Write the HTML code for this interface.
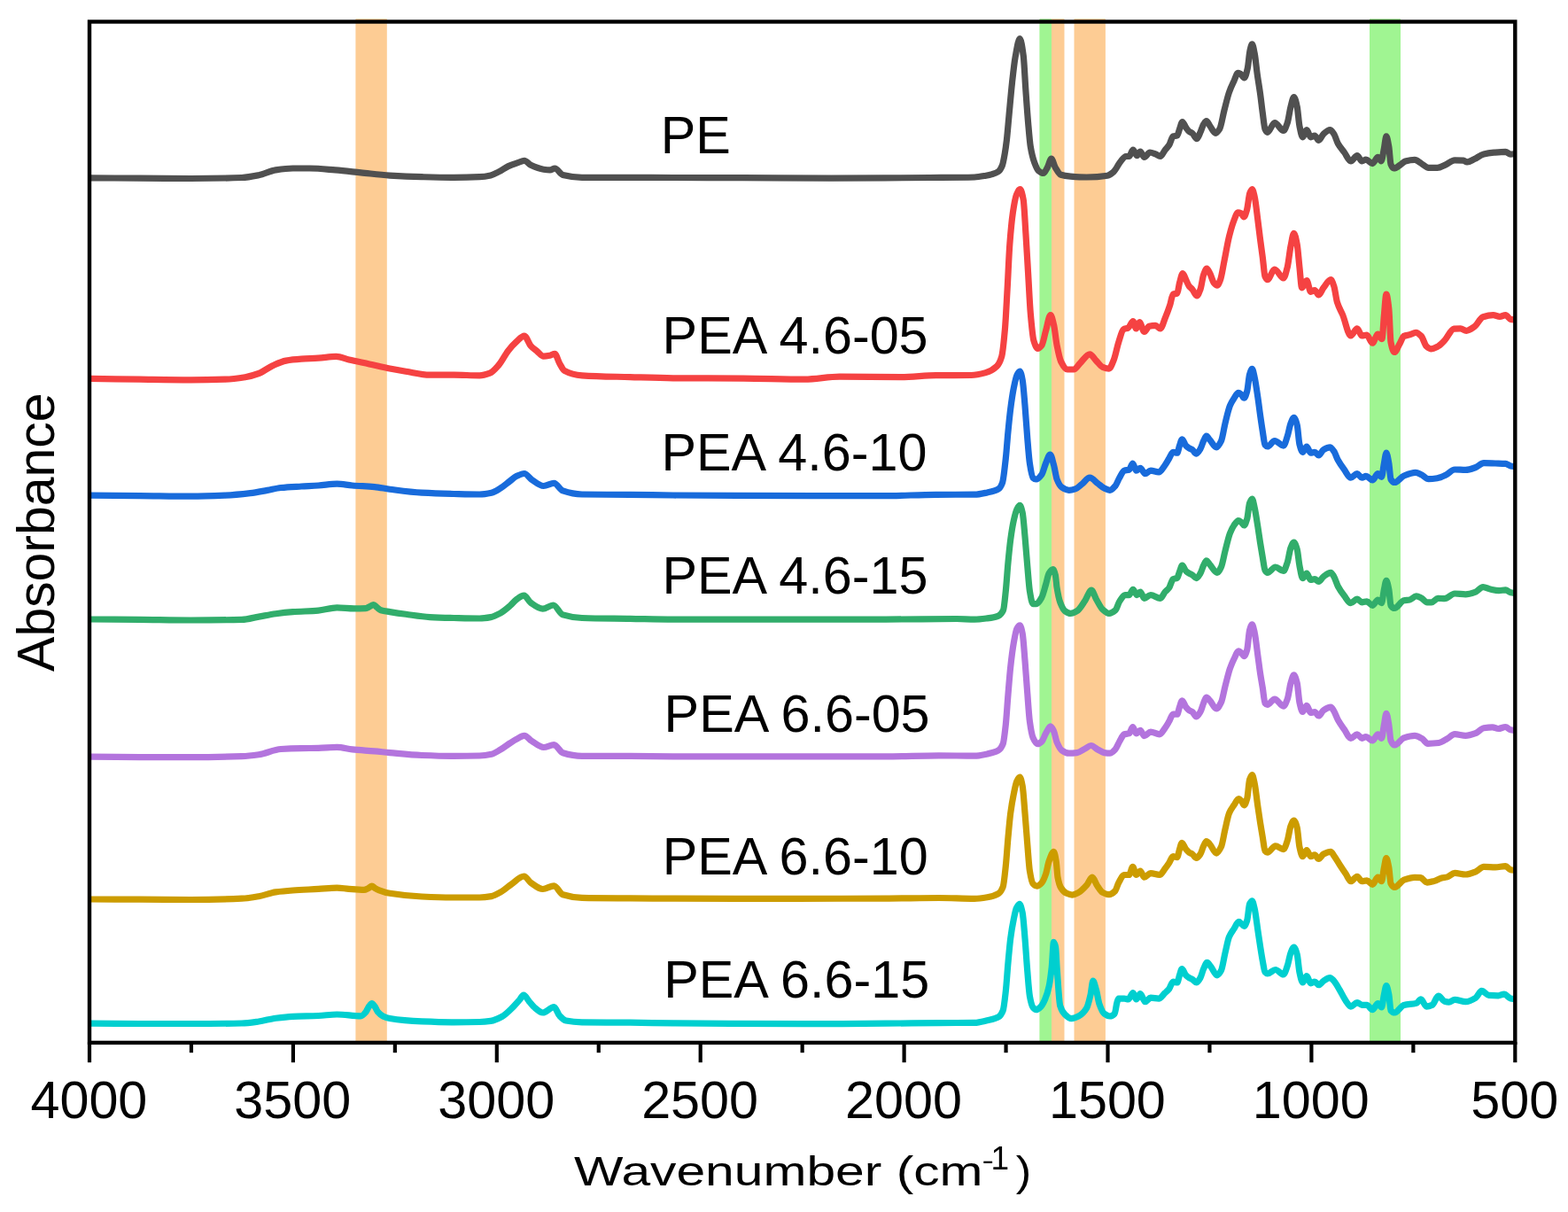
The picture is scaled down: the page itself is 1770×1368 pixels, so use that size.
<!DOCTYPE html>
<html><head><meta charset="utf-8"><style>
html,body{margin:0;padding:0;background:#fff;width:1770px;height:1368px;overflow:hidden}
svg{display:block}
.t{font-family:"Liberation Sans",Arial,sans-serif;font-size:59.3px;fill:#000}
.xl{font-family:"Liberation Sans",Arial,sans-serif;font-size:46.8px;fill:#000}
</style></head><body>
<svg width="1770" height="1368" viewBox="0 0 1770 1368">
<rect width="1770" height="1368" fill="#fff"/>
<rect x="401.4" y="21.2" width="35.4" height="1155.8" fill="#FDCC94"/>
<rect x="1173.4" y="21.2" width="13.6" height="1155.8" fill="#A0F592"/>
<rect x="1187.0" y="21.2" width="14.5" height="1155.8" fill="#FDCC94"/>
<rect x="1212.5" y="21.2" width="35.4" height="1155.8" fill="#FDCC94"/>
<rect x="1546.0" y="21.2" width="35.0" height="1155.8" fill="#A0F592"/>
<path d="M101.9,200.9 C120.47,200.97 139.03,201.01 157.6,201.1 C176.83,201.19 196.07,201.50 215.3,201.5 C234.50,201.50 253.70,201.19 272.9,200.5 C279.30,200.27 285.70,198.96 292.1,197.7 C298.50,196.44 304.90,192.85 311.3,191.9 C317.70,190.95 324.10,190.00 330.5,190.0 C336.90,190.00 343.30,190.00 349.7,190.0 C359.30,190.00 368.90,191.13 378.5,191.9 C388.10,192.67 397.70,193.83 407.3,194.8 C418.20,195.90 429.10,197.43 440.0,198.1 C452.07,198.85 464.13,199.41 476.2,199.7 C488.23,199.99 500.27,200.30 512.3,200.3 C521.97,200.30 531.63,200.09 541.3,199.7 C545.50,199.53 549.70,198.83 553.9,197.9 C556.93,197.23 559.97,195.41 563.0,193.9 C566.60,192.10 570.20,189.22 573.8,187.6 C577.43,185.96 581.07,184.84 584.7,183.6 C587.10,182.78 589.50,181.30 591.9,181.3 C594.30,181.30 596.70,185.16 599.1,186.3 C603.93,188.59 608.77,190.59 613.6,191.2 C616.00,191.50 618.40,191.80 620.8,191.8 C622.63,191.80 624.47,190.00 626.3,190.0 C629.30,190.00 632.30,196.75 635.3,197.5 C642.53,199.30 649.77,200.30 657.0,200.3 C675.07,200.30 693.13,200.30 711.2,200.3 C727.47,200.30 743.73,200.45 760.0,200.5 C786.33,200.58 812.67,200.62 839.0,200.7 C872.00,200.80 905.00,201.10 938.0,201.1 C975.33,201.10 1012.67,200.77 1050.0,200.5 C1066.67,200.38 1083.33,200.37 1100.0,200.0 C1104.33,199.90 1108.67,198.97 1113.0,198.2 C1115.33,197.79 1117.67,197.30 1120.0,196.6 C1122.33,195.90 1124.67,195.24 1127.0,193.6 C1128.43,192.59 1129.87,190.41 1131.3,187.0 C1132.30,184.62 1133.30,178.72 1134.3,173.0 C1135.00,169.00 1135.70,163.96 1136.4,158.0 C1137.23,150.91 1138.07,140.15 1138.9,131.3 C1140.10,118.55 1141.30,104.24 1142.5,93.3 C1143.70,82.36 1144.90,71.01 1146.1,64.4 C1147.80,55.03 1149.50,43.60 1151.2,43.6 C1152.53,43.60 1153.87,52.63 1155.2,62.5 C1156.10,69.16 1157.00,89.66 1157.9,102.3 C1158.80,114.94 1159.70,128.17 1160.6,138.5 C1161.50,148.83 1162.40,160.24 1163.3,165.6 C1164.80,174.53 1166.30,179.69 1167.8,183.7 C1169.30,187.71 1170.80,191.46 1172.3,192.7 C1174.13,194.22 1175.97,195.50 1177.8,195.5 C1179.30,195.50 1180.80,191.69 1182.3,189.1 C1183.80,186.51 1185.30,179.20 1186.8,179.2 C1188.30,179.20 1189.80,186.61 1191.3,189.1 C1193.40,192.58 1195.50,196.64 1197.6,197.3 C1201.23,198.44 1204.87,198.81 1208.5,199.1 C1214.53,199.58 1220.57,200.00 1226.6,200.0 C1234.43,200.00 1242.27,199.44 1250.1,198.2 C1252.50,197.82 1254.90,195.81 1257.3,193.7 C1259.73,191.56 1262.17,185.70 1264.6,182.8 C1266.70,180.30 1268.80,176.50 1270.9,176.5 C1272.10,176.50 1273.30,176.50 1274.5,176.5 C1276.00,176.50 1277.50,169.20 1279.0,169.2 C1280.50,169.20 1282.00,175.60 1283.5,175.6 C1284.73,175.60 1285.97,171.00 1287.2,171.0 C1288.70,171.00 1290.20,177.40 1291.7,177.4 C1293.80,177.40 1295.90,172.00 1298.0,172.0 C1300.10,172.00 1302.20,173.04 1304.3,173.8 C1306.13,174.47 1307.97,176.50 1309.8,176.5 C1311.60,176.50 1313.40,171.48 1315.2,169.2 C1316.70,167.30 1318.20,166.13 1319.7,163.8 C1321.20,161.47 1322.70,154.44 1324.2,153.9 C1325.73,153.35 1327.27,153.60 1328.8,153.0 C1329.70,152.64 1330.60,148.06 1331.5,145.7 C1332.57,142.91 1333.63,137.60 1334.7,137.6 C1336.03,137.60 1337.37,142.05 1338.7,143.9 C1339.90,145.57 1341.10,147.51 1342.3,148.4 C1343.50,149.29 1344.70,149.43 1345.9,150.3 C1347.60,151.53 1349.30,156.60 1351.0,156.6 C1352.33,156.60 1353.67,152.12 1355.0,149.3 C1356.20,146.76 1357.40,142.15 1358.6,140.3 C1359.67,138.66 1360.73,136.70 1361.8,136.7 C1363.13,136.70 1364.47,140.34 1365.8,142.1 C1367.93,144.91 1370.07,150.30 1372.2,150.3 C1373.70,150.30 1375.20,148.10 1376.7,145.7 C1378.50,142.82 1380.30,130.92 1382.1,124.0 C1383.90,117.08 1385.70,109.24 1387.5,104.1 C1389.30,98.96 1391.10,95.35 1392.9,91.5 C1394.43,88.22 1395.97,82.40 1397.5,82.4 C1398.40,82.40 1399.30,82.87 1400.2,83.3 C1401.70,84.02 1403.20,87.90 1404.7,87.9 C1405.90,87.90 1407.10,82.26 1408.3,77.0 C1409.20,73.06 1410.10,60.91 1411.0,57.1 C1411.80,53.72 1412.60,49.90 1413.4,49.9 C1414.33,49.90 1415.27,55.65 1416.2,60.3 C1417.23,65.45 1418.27,76.84 1419.3,84.2 C1420.40,92.03 1421.50,98.01 1422.6,106.0 C1423.50,112.53 1424.40,121.03 1425.3,127.6 C1426.20,134.17 1427.10,143.70 1428.0,145.7 C1428.90,147.70 1429.80,149.30 1430.7,149.3 C1433.43,149.30 1436.17,138.50 1438.9,138.5 C1442.20,138.50 1445.50,147.50 1448.8,147.5 C1450.30,147.50 1451.80,142.82 1453.3,138.5 C1454.53,134.95 1455.77,124.98 1457.0,120.4 C1458.20,115.94 1459.40,109.60 1460.6,109.6 C1461.80,109.60 1463.00,115.04 1464.2,120.4 C1465.10,124.42 1466.00,137.60 1466.9,142.1 C1468.10,148.10 1469.30,154.80 1470.5,154.8 C1472.00,154.80 1473.50,146.60 1475.0,146.6 C1476.53,146.60 1478.07,154.80 1479.6,154.8 C1481.10,154.80 1482.60,153.00 1484.1,153.0 C1485.60,153.00 1487.10,158.40 1488.6,158.4 C1490.40,158.40 1492.20,152.77 1494.0,151.2 C1496.43,149.08 1498.87,146.60 1501.3,146.6 C1502.80,146.60 1504.30,149.05 1505.8,151.2 C1507.30,153.35 1508.80,159.31 1510.3,162.0 C1512.70,166.31 1515.10,168.71 1517.5,172.0 C1519.93,175.34 1522.37,181.90 1524.8,181.9 C1527.20,181.90 1529.60,175.60 1532.0,175.6 C1533.80,175.60 1535.60,181.90 1537.4,181.9 C1538.93,181.90 1540.47,180.10 1542.0,180.1 C1544.40,180.10 1546.80,184.60 1549.2,184.6 C1551.30,184.60 1553.40,177.40 1555.5,177.4 C1556.70,177.40 1557.90,181.90 1559.1,181.9 C1560.20,181.90 1561.30,172.76 1562.4,167.4 C1563.23,163.34 1564.07,153.90 1564.9,153.9 C1565.87,153.90 1566.83,160.11 1567.8,165.6 C1568.53,169.77 1569.27,183.67 1570.0,185.5 C1571.10,188.24 1572.20,190.00 1573.3,190.0 C1575.77,190.00 1578.23,187.61 1580.7,186.1 C1582.60,184.94 1584.50,182.51 1586.4,182.0 C1589.93,181.06 1593.47,180.40 1597.0,180.4 C1599.47,180.40 1601.93,183.08 1604.4,184.5 C1607.13,186.07 1609.87,189.40 1612.6,189.4 C1615.90,189.40 1619.20,189.40 1622.5,189.4 C1625.50,189.40 1628.50,187.36 1631.5,186.1 C1635.03,184.61 1638.57,180.80 1642.1,180.8 C1645.40,180.80 1648.70,180.93 1652.0,181.2 C1653.37,181.31 1654.73,182.90 1656.1,182.9 C1658.83,182.90 1661.57,180.85 1664.3,179.6 C1667.83,177.98 1671.37,174.73 1674.9,173.9 C1678.73,173.00 1682.57,172.53 1686.4,172.2 C1690.77,171.82 1695.13,171.40 1699.5,171.4 C1701.40,171.40 1703.30,174.10 1705.2,174.1 C1707.13,174.10 1709.07,173.63 1711.0,173.4" fill="none" stroke="#505050" stroke-width="7.2" stroke-linejoin="round" stroke-linecap="butt"/>
<path d="M101.9,427.3 C120.47,427.60 139.03,427.96 157.6,428.2 C176.83,428.44 196.07,428.80 215.3,428.8 C228.10,428.80 240.90,428.57 253.7,428.2 C261.37,427.98 269.03,426.93 276.7,425.7 C281.83,424.88 286.97,423.38 292.1,421.5 C297.23,419.62 302.37,415.22 307.5,412.9 C312.60,410.60 317.70,407.98 322.8,407.1 C328.57,406.11 334.33,405.61 340.1,405.2 C346.50,404.74 352.90,404.63 359.3,404.2 C366.03,403.75 372.77,402.30 379.5,402.3 C384.30,402.30 389.10,404.97 393.9,406.1 C401.57,407.90 409.23,409.26 416.9,410.9 C424.60,412.55 432.30,414.49 440.0,416.0 C446.03,417.18 452.07,418.22 458.1,419.2 C467.13,420.66 476.17,423.20 485.2,423.2 C494.23,423.20 503.27,423.20 512.3,423.2 C521.97,423.20 531.63,423.80 541.3,423.8 C545.20,423.80 549.10,422.56 553.0,421.1 C556.33,419.85 559.67,415.77 563.0,412.0 C566.60,407.93 570.20,400.23 573.8,395.7 C576.83,391.88 579.87,388.48 582.9,385.8 C585.90,383.15 588.90,379.10 591.9,379.1 C594.30,379.10 596.70,387.63 599.1,390.3 C601.53,393.00 603.97,394.63 606.4,396.6 C608.80,398.54 611.20,402.10 613.6,402.1 C616.00,402.10 618.40,401.64 620.8,401.2 C622.63,400.86 624.47,399.40 626.3,399.4 C628.10,399.40 629.90,407.11 631.7,410.2 C633.50,413.29 635.30,417.33 637.1,418.3 C643.73,421.87 650.37,423.35 657.0,423.8 C675.07,425.02 693.13,425.09 711.2,425.6 C727.47,426.06 743.73,426.69 760.0,426.8 C786.37,426.98 812.73,426.94 839.1,427.1 C862.17,427.24 885.23,428.10 908.3,428.1 C921.50,428.10 934.70,425.10 947.9,425.1 C970.97,425.10 994.03,425.70 1017.1,425.7 C1030.27,425.70 1043.43,423.82 1056.6,423.7 C1069.80,423.58 1083.00,423.65 1096.2,423.5 C1101.70,423.44 1107.20,422.11 1112.7,420.6 C1116.90,419.44 1121.10,417.44 1125.3,413.4 C1127.10,411.67 1128.90,408.58 1130.7,402.5 C1131.93,398.34 1133.17,385.73 1134.4,371.8 C1135.30,361.64 1136.20,342.52 1137.1,326.6 C1138.00,310.68 1138.90,287.95 1139.8,276.0 C1141.00,260.07 1142.20,247.84 1143.4,239.8 C1144.73,230.87 1146.07,223.04 1147.4,219.9 C1148.77,216.68 1150.13,213.60 1151.5,213.6 C1152.73,213.60 1153.97,218.71 1155.2,225.3 C1156.10,230.11 1157.00,249.54 1157.9,263.3 C1158.80,277.06 1159.70,293.43 1160.6,308.5 C1161.50,323.57 1162.40,343.35 1163.3,353.7 C1164.50,367.50 1165.70,380.52 1166.9,384.5 C1168.40,389.48 1169.90,393.50 1171.4,393.5 C1172.90,393.50 1174.40,391.85 1175.9,389.9 C1177.43,387.90 1178.97,378.89 1180.5,373.6 C1182.30,367.39 1184.10,355.50 1185.9,355.5 C1187.10,355.50 1188.30,361.44 1189.5,366.4 C1190.70,371.36 1191.90,383.87 1193.1,389.9 C1194.60,397.43 1196.10,405.05 1197.6,408.0 C1200.03,412.79 1202.47,417.00 1204.9,417.0 C1207.30,417.00 1209.70,417.00 1212.1,417.0 C1214.50,417.00 1216.90,412.10 1219.3,409.8 C1222.93,406.31 1226.57,399.80 1230.2,399.8 C1232.60,399.80 1235.00,404.70 1237.4,407.1 C1239.83,409.53 1242.27,413.33 1244.7,414.3 C1247.10,415.26 1249.50,416.10 1251.9,416.1 C1253.70,416.10 1255.50,410.53 1257.3,406.1 C1259.10,401.67 1260.90,391.82 1262.7,386.3 C1264.53,380.67 1266.37,372.88 1268.2,371.8 C1270.00,370.74 1271.80,370.96 1273.6,370.0 C1275.40,369.04 1277.20,362.70 1279.0,362.7 C1280.20,362.70 1281.40,370.90 1282.6,370.9 C1283.83,370.90 1285.07,363.70 1286.3,363.7 C1288.10,363.70 1289.90,374.50 1291.7,374.5 C1293.50,374.50 1295.30,368.62 1297.1,368.2 C1299.50,367.64 1301.90,367.30 1304.3,367.3 C1306.13,367.30 1307.97,370.90 1309.8,370.9 C1311.60,370.90 1313.40,363.42 1315.2,359.1 C1317.00,354.78 1318.80,350.22 1320.6,344.7 C1321.80,341.02 1323.00,332.46 1324.2,332.0 C1325.73,331.41 1327.27,331.72 1328.8,331.1 C1329.70,330.73 1330.60,322.53 1331.5,319.3 C1332.70,314.99 1333.90,308.50 1335.1,308.5 C1336.30,308.50 1337.50,313.28 1338.7,315.7 C1339.90,318.12 1341.10,321.39 1342.3,323.0 C1343.50,324.61 1344.70,325.21 1345.9,326.6 C1347.60,328.57 1349.30,333.80 1351.0,333.8 C1352.33,333.80 1353.67,330.06 1355.0,326.6 C1356.20,323.49 1357.40,313.63 1358.6,310.3 C1359.80,306.97 1361.00,303.10 1362.2,303.1 C1363.40,303.10 1364.60,306.30 1365.8,308.5 C1367.30,311.25 1368.80,317.60 1370.3,319.3 C1371.53,320.70 1372.77,322.10 1374.0,322.1 C1375.20,322.10 1376.40,318.77 1377.6,315.7 C1379.10,311.87 1380.60,301.37 1382.1,294.0 C1383.90,285.15 1385.70,274.13 1387.5,266.9 C1389.30,259.67 1391.10,253.22 1392.9,248.8 C1394.43,245.04 1395.97,239.80 1397.5,239.8 C1398.70,239.80 1399.90,240.19 1401.1,240.7 C1402.13,241.14 1403.17,244.80 1404.2,244.8 C1405.30,244.80 1406.40,240.68 1407.5,237.0 C1408.60,233.32 1409.70,220.96 1410.8,218.1 C1411.67,215.84 1412.53,213.60 1413.4,213.6 C1414.37,213.60 1415.33,218.38 1416.3,222.5 C1417.50,227.61 1418.70,239.59 1419.9,248.8 C1420.80,255.70 1421.70,263.58 1422.6,270.5 C1423.50,277.42 1424.40,283.48 1425.3,290.4 C1426.20,297.32 1427.10,310.04 1428.0,312.1 C1428.90,314.16 1429.80,315.70 1430.7,315.7 C1433.43,315.70 1436.17,304.00 1438.9,304.0 C1442.20,304.00 1445.50,313.90 1448.8,313.9 C1450.30,313.90 1451.80,307.20 1453.3,301.3 C1454.53,296.45 1455.77,283.87 1457.0,277.8 C1458.20,271.89 1459.40,263.30 1460.6,263.3 C1461.80,263.30 1463.00,269.64 1464.2,275.9 C1465.10,280.59 1466.00,293.16 1466.9,301.3 C1467.80,309.44 1468.70,324.80 1469.6,324.8 C1471.40,324.80 1473.20,316.60 1475.0,316.6 C1476.53,316.60 1478.07,329.30 1479.6,329.3 C1481.10,329.30 1482.60,327.50 1484.1,327.5 C1485.60,327.50 1487.10,332.90 1488.6,332.9 C1490.40,332.90 1492.20,327.12 1494.0,324.8 C1496.73,321.28 1499.47,315.70 1502.2,315.7 C1503.40,315.70 1504.60,319.54 1505.8,323.0 C1507.00,326.46 1508.20,337.09 1509.4,341.0 C1511.50,347.85 1513.60,350.41 1515.7,355.5 C1518.73,362.86 1521.77,379.00 1524.8,379.0 C1527.20,379.00 1529.60,370.90 1532.0,370.9 C1533.80,370.90 1535.60,379.00 1537.4,379.0 C1539.23,379.00 1541.07,378.10 1542.9,378.1 C1545.00,378.10 1547.10,387.20 1549.2,387.2 C1551.30,387.20 1553.40,377.20 1555.5,377.2 C1557.00,377.20 1558.50,382.60 1560.0,382.6 C1560.80,382.60 1561.60,363.71 1562.4,355.5 C1563.23,346.95 1564.07,332.00 1564.9,332.0 C1565.87,332.00 1566.83,339.91 1567.8,348.3 C1568.53,354.67 1569.27,382.57 1570.0,386.3 C1571.37,393.26 1572.73,397.50 1574.1,397.5 C1576.00,397.50 1577.90,391.62 1579.8,388.4 C1581.47,385.58 1583.13,380.15 1584.8,379.4 C1586.97,378.43 1589.13,378.43 1591.3,377.8 C1593.63,377.12 1595.97,375.30 1598.3,375.3 C1600.33,375.30 1602.37,377.35 1604.4,379.4 C1606.33,381.35 1608.27,389.16 1610.2,390.9 C1611.83,392.37 1613.47,393.80 1615.1,393.8 C1617.83,393.80 1620.57,392.29 1623.3,390.9 C1625.77,389.64 1628.23,386.83 1630.7,384.3 C1634.23,380.67 1637.77,371.55 1641.3,371.2 C1643.77,370.96 1646.23,370.80 1648.7,370.8 C1650.87,370.80 1653.03,373.30 1655.2,373.3 C1658.23,373.30 1661.27,370.88 1664.3,368.8 C1667.57,366.56 1670.83,358.70 1674.1,357.7 C1677.93,356.52 1681.77,355.70 1685.6,355.7 C1688.07,355.70 1690.53,357.30 1693.0,357.3 C1695.17,357.30 1697.33,355.70 1699.5,355.7 C1701.40,355.70 1703.30,360.05 1705.2,360.4 C1707.13,360.76 1709.07,360.80 1711.0,361.0" fill="none" stroke="#F54242" stroke-width="7.2" stroke-linejoin="round" stroke-linecap="butt"/>
<path d="M101.9,559.2 C120.47,559.33 139.03,559.44 157.6,559.6 C176.83,559.76 196.07,560.20 215.3,560.2 C228.10,560.20 240.90,559.73 253.7,559.2 C263.30,558.81 272.90,557.83 282.5,556.7 C288.90,555.95 295.30,554.55 301.7,553.4 C306.83,552.48 311.97,551.01 317.1,550.5 C324.77,549.73 332.43,549.44 340.1,549.0 C346.50,548.63 352.90,548.42 359.3,548.0 C366.33,547.54 373.37,546.10 380.4,546.1 C386.17,546.10 391.93,547.53 397.7,548.0 C406.03,548.68 414.37,548.83 422.7,549.6 C428.47,550.13 434.23,551.45 440.0,552.2 C452.07,553.76 464.13,555.54 476.2,556.2 C488.23,556.85 500.27,557.22 512.3,557.5 C521.97,557.72 531.63,558.00 541.3,558.0 C545.80,558.00 550.30,557.18 554.8,556.2 C558.13,555.48 561.47,553.20 564.8,551.2 C568.40,549.04 572.00,545.70 575.6,543.0 C578.03,541.18 580.47,538.76 582.9,537.6 C585.90,536.17 588.90,534.50 591.9,534.5 C594.60,534.50 597.30,539.41 600.0,541.2 C604.53,544.21 609.07,548.50 613.6,548.5 C617.53,548.50 621.47,545.40 625.4,545.4 C628.70,545.40 632.00,552.79 635.3,553.9 C642.53,556.33 649.77,557.88 657.0,558.0 C675.07,558.30 693.13,558.23 711.2,558.4 C727.47,558.55 743.73,558.88 760.0,559.0 C812.73,559.37 865.47,559.70 918.2,559.7 C944.57,559.70 970.93,559.70 997.3,559.7 C1017.07,559.70 1036.83,558.38 1056.6,558.3 C1071.07,558.24 1085.53,558.28 1100.0,558.2 C1104.83,558.17 1109.67,556.93 1114.5,555.9 C1118.70,555.00 1122.90,554.39 1127.1,551.9 C1128.60,551.01 1130.10,548.73 1131.6,544.7 C1132.83,541.39 1134.07,528.64 1135.3,517.5 C1136.20,509.37 1137.10,496.05 1138.0,486.8 C1138.90,477.55 1139.80,468.48 1140.7,461.5 C1141.90,452.19 1143.10,443.98 1144.3,438.0 C1145.50,432.02 1146.70,425.93 1147.9,423.5 C1149.00,421.27 1150.10,419.00 1151.2,419.0 C1152.20,419.00 1153.20,423.86 1154.2,428.9 C1155.13,433.60 1156.07,447.00 1157.0,457.9 C1157.90,468.41 1158.80,483.28 1159.7,494.0 C1160.60,504.72 1161.50,517.18 1162.4,523.0 C1163.60,530.76 1164.80,538.12 1166.0,539.2 C1167.20,540.28 1168.40,541.00 1169.6,541.0 C1171.70,541.00 1173.80,538.42 1175.9,535.6 C1177.43,533.54 1178.97,526.59 1180.5,523.0 C1182.13,519.17 1183.77,513.00 1185.4,513.0 C1186.77,513.00 1188.13,519.98 1189.5,524.8 C1190.70,529.03 1191.90,538.00 1193.1,541.0 C1194.93,545.58 1196.77,548.88 1198.6,550.1 C1201.30,551.89 1204.00,553.30 1206.7,553.3 C1209.10,553.30 1211.50,552.64 1213.9,551.9 C1216.33,551.15 1218.77,548.38 1221.2,546.5 C1224.20,544.18 1227.20,539.20 1230.2,539.2 C1233.20,539.20 1236.20,543.42 1239.2,545.6 C1241.63,547.37 1244.07,549.82 1246.5,551.0 C1248.60,552.02 1250.70,553.30 1252.8,553.3 C1254.90,553.30 1257.00,550.73 1259.1,548.3 C1260.63,546.52 1262.17,541.83 1263.7,539.2 C1265.50,536.12 1267.30,531.64 1269.1,531.1 C1270.90,530.56 1272.70,530.77 1274.5,530.2 C1275.90,529.76 1277.30,523.00 1278.7,523.0 C1280.00,523.00 1281.30,531.10 1282.6,531.1 C1284.13,531.10 1285.67,528.40 1287.2,528.4 C1289.00,528.40 1290.80,534.70 1292.6,534.7 C1294.70,534.70 1296.80,531.10 1298.9,531.1 C1301.93,531.10 1304.97,532.90 1308.0,532.9 C1310.40,532.90 1312.80,528.03 1315.2,524.8 C1316.70,522.78 1318.20,519.92 1319.7,517.5 C1321.20,515.08 1322.70,510.30 1324.2,510.3 C1325.73,510.30 1327.27,511.20 1328.8,511.2 C1329.70,511.20 1330.60,505.52 1331.5,503.1 C1332.50,500.41 1333.50,495.80 1334.5,495.8 C1335.90,495.80 1337.30,501.65 1338.7,503.1 C1339.90,504.34 1341.10,505.08 1342.3,505.8 C1343.50,506.52 1344.70,506.82 1345.9,507.6 C1347.43,508.60 1348.97,512.10 1350.5,512.1 C1352.00,512.10 1353.50,509.16 1355.0,506.7 C1356.20,504.73 1357.40,500.14 1358.6,497.7 C1359.67,495.54 1360.73,492.20 1361.8,492.2 C1363.13,492.20 1364.47,495.20 1365.8,496.7 C1368.23,499.44 1370.67,504.90 1373.1,504.9 C1374.90,504.90 1376.70,501.45 1378.5,497.7 C1380.00,494.58 1381.50,483.85 1383.0,477.8 C1384.80,470.54 1386.60,462.24 1388.4,457.9 C1389.90,454.28 1391.40,451.92 1392.9,449.7 C1394.60,447.19 1396.30,443.40 1398.0,443.4 C1399.03,443.40 1400.07,444.39 1401.1,445.2 C1402.20,446.06 1403.30,449.20 1404.4,449.2 C1405.50,449.20 1406.60,445.39 1407.7,441.6 C1408.67,438.27 1409.63,425.83 1410.6,422.6 C1411.53,419.48 1412.47,416.30 1413.4,416.3 C1414.33,416.30 1415.27,421.91 1416.2,426.0 C1417.43,431.40 1418.67,440.48 1419.9,448.8 C1420.80,454.87 1421.70,462.38 1422.6,468.7 C1423.50,475.02 1424.40,481.25 1425.3,486.8 C1426.20,492.35 1427.10,501.13 1428.0,502.2 C1428.90,503.27 1429.80,504.00 1430.7,504.0 C1433.43,504.00 1436.17,497.60 1438.9,497.6 C1442.20,497.60 1445.50,503.10 1448.8,503.1 C1450.30,503.10 1451.80,496.71 1453.3,492.2 C1454.53,488.49 1455.77,480.81 1457.0,477.8 C1458.20,474.88 1459.40,471.40 1460.6,471.4 C1461.80,471.40 1463.00,475.22 1464.2,479.6 C1465.10,482.88 1466.00,497.78 1466.9,501.3 C1468.10,505.99 1469.30,510.30 1470.5,510.3 C1472.00,510.30 1473.50,504.00 1475.0,504.0 C1476.53,504.00 1478.07,511.20 1479.6,511.2 C1481.10,511.20 1482.60,510.30 1484.1,510.3 C1485.60,510.30 1487.10,513.90 1488.6,513.9 C1490.40,513.90 1492.20,508.64 1494.0,507.6 C1496.43,506.20 1498.87,504.90 1501.3,504.9 C1502.80,504.90 1504.30,507.34 1505.8,509.4 C1507.30,511.46 1508.80,516.57 1510.3,519.3 C1512.70,523.67 1515.10,526.94 1517.5,530.2 C1519.93,533.51 1522.37,539.20 1524.8,539.2 C1527.20,539.20 1529.60,534.70 1532.0,534.7 C1533.80,534.70 1535.60,539.20 1537.4,539.2 C1538.93,539.20 1540.47,537.40 1542.0,537.4 C1544.40,537.40 1546.80,542.00 1549.2,542.0 C1551.30,542.00 1553.40,534.70 1555.5,534.7 C1556.83,534.70 1558.17,538.30 1559.5,538.3 C1560.47,538.30 1561.43,527.81 1562.4,523.0 C1563.23,518.85 1564.07,511.20 1564.9,511.2 C1565.87,511.20 1566.83,517.66 1567.8,523.0 C1568.53,527.05 1569.27,539.81 1570.0,541.0 C1571.43,543.33 1572.87,544.50 1574.3,544.5 C1577.80,544.50 1581.30,538.44 1584.8,537.0 C1589.17,535.20 1593.53,533.30 1597.9,533.3 C1600.07,533.30 1602.23,534.71 1604.4,535.7 C1607.13,536.95 1609.87,540.70 1612.6,540.7 C1615.90,540.70 1619.20,540.28 1622.5,539.8 C1625.77,539.32 1629.03,537.64 1632.3,536.1 C1635.57,534.56 1638.83,530.00 1642.1,530.0 C1646.20,530.00 1650.30,530.40 1654.4,530.4 C1658.23,530.40 1662.07,528.84 1665.9,527.5 C1668.90,526.45 1671.90,522.60 1674.9,522.6 C1679.27,522.60 1683.63,522.86 1688.0,523.0 C1691.83,523.12 1695.67,523.13 1699.5,523.4 C1701.40,523.54 1703.30,525.50 1705.2,525.9 C1707.13,526.31 1709.07,526.43 1711.0,526.7" fill="none" stroke="#186BDB" stroke-width="7.2" stroke-linejoin="round" stroke-linecap="butt"/>
<path d="M101.9,699.0 C120.47,699.13 139.03,699.24 157.6,699.4 C176.83,699.56 196.07,700.00 215.3,700.0 C234.50,700.00 253.70,699.84 272.9,699.4 C279.30,699.25 285.70,697.22 292.1,696.1 C298.50,694.98 304.90,693.54 311.3,692.7 C317.70,691.86 324.10,691.15 330.5,690.7 C340.10,690.02 349.70,689.97 359.3,689.2 C366.33,688.64 373.37,685.90 380.4,685.9 C386.83,685.90 393.27,686.90 399.7,686.9 C404.13,686.90 408.57,686.85 413.0,686.7 C414.50,686.65 416.00,685.22 417.5,684.5 C418.90,683.82 420.30,682.50 421.7,682.5 C422.97,682.50 424.23,684.54 425.5,685.5 C427.00,686.64 428.50,688.33 430.0,688.8 C433.33,689.84 436.67,690.05 440.0,690.6 C446.03,691.59 452.07,692.49 458.1,693.3 C467.13,694.52 476.17,696.13 485.2,696.6 C494.23,697.07 503.27,697.29 512.3,697.5 C521.97,697.72 531.63,698.00 541.3,698.0 C545.50,698.00 549.70,697.35 553.9,696.6 C557.53,695.95 561.17,694.04 564.8,692.1 C568.40,690.17 572.00,687.01 575.6,683.9 C578.03,681.79 580.47,678.38 582.9,676.7 C585.77,674.72 588.63,672.20 591.5,672.2 C594.03,672.20 596.57,678.50 599.1,680.3 C603.63,683.52 608.17,687.20 612.7,687.2 C616.63,687.20 620.57,683.00 624.5,683.0 C628.10,683.00 631.70,692.78 635.3,693.9 C642.53,696.14 649.77,697.25 657.0,697.5 C675.07,698.12 693.13,698.10 711.2,698.4 C727.47,698.67 743.73,699.20 760.0,699.2 C806.67,699.20 853.33,699.10 900.0,699.1 C933.33,699.10 966.67,699.10 1000.0,699.1 C1026.67,699.10 1053.33,698.50 1080.0,698.5 C1086.67,698.50 1093.33,699.20 1100.0,699.2 C1104.83,699.20 1109.67,698.52 1114.5,697.9 C1118.70,697.36 1122.90,696.82 1127.1,695.1 C1128.90,694.36 1130.70,692.76 1132.5,688.8 C1133.43,686.75 1134.37,675.91 1135.3,667.1 C1136.20,658.60 1137.10,644.10 1138.0,634.6 C1138.90,625.10 1139.80,615.88 1140.7,609.2 C1141.90,600.29 1143.10,592.81 1144.3,587.5 C1145.50,582.19 1146.70,577.24 1147.9,574.9 C1149.00,572.75 1150.10,570.40 1151.2,570.4 C1152.20,570.40 1153.20,574.25 1154.2,578.5 C1155.13,582.47 1156.07,595.57 1157.0,605.6 C1157.90,615.28 1158.80,627.99 1159.7,638.2 C1160.60,648.41 1161.50,661.72 1162.4,667.1 C1163.60,674.28 1164.80,681.60 1166.0,681.6 C1167.20,681.60 1168.40,681.60 1169.6,681.6 C1171.70,681.60 1173.80,677.94 1175.9,674.3 C1177.43,671.64 1178.97,665.00 1180.5,659.9 C1181.70,655.91 1182.90,649.11 1184.1,647.2 C1185.60,644.81 1187.10,642.70 1188.6,642.7 C1189.50,642.70 1190.40,645.62 1191.3,649.0 C1191.90,651.25 1192.50,659.91 1193.1,663.5 C1194.30,670.68 1195.50,676.61 1196.7,679.8 C1198.53,684.67 1200.37,688.41 1202.2,689.7 C1204.30,691.17 1206.40,692.40 1208.5,692.4 C1210.90,692.40 1213.30,691.06 1215.7,689.7 C1218.73,687.98 1221.77,682.39 1224.8,678.0 C1227.20,674.53 1229.60,666.20 1232.0,666.2 C1233.80,666.20 1235.60,673.10 1237.4,676.2 C1239.83,680.40 1242.27,685.71 1244.7,687.9 C1247.10,690.06 1249.50,692.40 1251.9,692.4 C1254.30,692.40 1256.70,690.84 1259.1,688.8 C1260.63,687.50 1262.17,681.25 1263.7,678.9 C1265.80,675.69 1267.90,671.60 1270.0,671.6 C1271.50,671.60 1273.00,671.60 1274.5,671.6 C1276.00,671.60 1277.50,665.30 1279.0,665.3 C1280.50,665.30 1282.00,671.60 1283.5,671.6 C1284.73,671.60 1285.97,668.00 1287.2,668.0 C1288.70,668.00 1290.20,675.30 1291.7,675.3 C1294.10,675.30 1296.50,671.60 1298.9,671.6 C1302.53,671.60 1306.17,675.30 1309.8,675.3 C1311.60,675.30 1313.40,670.06 1315.2,668.0 C1316.70,666.28 1318.20,665.56 1319.7,663.5 C1321.20,661.44 1322.70,654.35 1324.2,653.6 C1325.73,652.83 1327.27,653.14 1328.8,652.3 C1329.70,651.81 1330.60,647.63 1331.5,645.4 C1332.50,642.92 1333.50,638.20 1334.5,638.2 C1335.90,638.20 1337.30,643.11 1338.7,644.5 C1339.90,645.69 1341.10,646.48 1342.3,647.2 C1343.50,647.92 1344.70,648.27 1345.9,649.0 C1347.43,649.93 1348.97,652.60 1350.5,652.6 C1352.00,652.60 1353.50,649.66 1355.0,647.2 C1356.20,645.23 1357.40,640.61 1358.6,638.2 C1359.67,636.06 1360.73,632.80 1361.8,632.8 C1363.13,632.80 1364.47,635.82 1365.8,637.3 C1368.53,640.34 1371.27,646.30 1374.0,646.3 C1375.50,646.30 1377.00,643.12 1378.5,640.0 C1380.00,636.88 1381.50,627.68 1383.0,621.9 C1384.80,614.97 1386.60,606.63 1388.4,602.0 C1389.90,598.15 1391.40,595.12 1392.9,593.0 C1394.60,590.60 1396.30,587.50 1398.0,587.5 C1399.03,587.50 1400.07,588.58 1401.1,589.4 C1402.17,590.25 1403.23,593.00 1404.3,593.0 C1405.43,593.00 1406.57,589.43 1407.7,585.8 C1408.67,582.70 1409.63,570.21 1410.6,567.7 C1411.53,565.28 1412.47,563.10 1413.4,563.1 C1414.33,563.10 1415.27,568.92 1416.2,573.0 C1417.43,578.39 1418.67,587.04 1419.9,594.8 C1420.80,600.46 1421.70,607.20 1422.6,612.9 C1423.50,618.60 1424.40,624.00 1425.3,629.1 C1426.20,634.20 1427.10,642.08 1428.0,643.6 C1428.90,645.12 1429.80,646.30 1430.7,646.3 C1433.73,646.30 1436.77,640.00 1439.8,640.0 C1442.80,640.00 1445.80,644.50 1448.8,644.5 C1450.30,644.50 1451.80,639.05 1453.3,634.6 C1454.53,630.94 1455.77,621.38 1457.0,618.3 C1458.20,615.30 1459.40,612.00 1460.6,612.0 C1461.80,612.00 1463.00,615.96 1464.2,620.1 C1465.10,623.21 1466.00,633.64 1466.9,638.2 C1468.10,644.29 1469.30,652.60 1470.5,652.6 C1472.00,652.60 1473.50,647.20 1475.0,647.2 C1476.53,647.20 1478.07,654.50 1479.6,654.5 C1481.10,654.50 1482.60,653.60 1484.1,653.6 C1485.60,653.60 1487.10,656.30 1488.6,656.3 C1490.40,656.30 1492.20,652.11 1494.0,650.8 C1496.73,648.81 1499.47,646.30 1502.2,646.3 C1503.40,646.30 1504.60,648.84 1505.8,650.8 C1507.30,653.24 1508.80,658.87 1510.3,661.7 C1512.70,666.23 1515.10,669.42 1517.5,672.5 C1519.93,675.63 1522.37,680.70 1524.8,680.7 C1527.20,680.70 1529.60,676.20 1532.0,676.2 C1533.80,676.20 1535.60,679.80 1537.4,679.8 C1539.23,679.80 1541.07,678.90 1542.9,678.9 C1545.00,678.90 1547.10,683.40 1549.2,683.4 C1551.30,683.40 1553.40,677.10 1555.5,677.1 C1556.83,677.10 1558.17,680.70 1559.5,680.7 C1560.47,680.70 1561.43,669.67 1562.4,665.3 C1563.23,661.53 1564.07,655.40 1564.9,655.4 C1565.87,655.40 1566.83,660.55 1567.8,665.3 C1568.53,668.91 1569.27,682.29 1570.0,683.4 C1571.37,685.47 1572.73,686.50 1574.1,686.5 C1577.67,686.50 1581.23,678.52 1584.8,677.8 C1586.97,677.36 1589.13,677.43 1591.3,677.0 C1593.77,676.51 1596.23,672.90 1598.7,672.9 C1600.60,672.90 1602.50,674.00 1604.4,674.9 C1606.60,675.94 1608.80,679.80 1611.0,679.8 C1612.63,679.80 1614.27,679.80 1615.9,679.8 C1618.37,679.80 1620.83,675.30 1623.3,675.3 C1625.77,675.30 1628.23,675.70 1630.7,675.7 C1634.50,675.70 1638.30,670.00 1642.1,670.0 C1646.20,670.00 1650.30,670.80 1654.4,670.8 C1657.97,670.80 1661.53,669.60 1665.1,668.4 C1668.10,667.39 1671.10,662.60 1674.1,662.6 C1676.83,662.60 1679.57,664.51 1682.3,665.1 C1685.57,665.80 1688.83,666.70 1692.1,666.7 C1694.57,666.70 1697.03,665.90 1699.5,665.9 C1701.40,665.90 1703.30,668.39 1705.2,668.8 C1707.13,669.22 1709.07,669.33 1711.0,669.6" fill="none" stroke="#31AD6B" stroke-width="7.2" stroke-linejoin="round" stroke-linecap="butt"/>
<path d="M101.9,854.2 C120.47,854.33 139.03,854.60 157.6,854.6 C176.83,854.60 196.07,854.60 215.3,854.6 C234.50,854.60 253.70,854.24 272.9,853.6 C279.30,853.39 285.70,852.59 292.1,851.7 C300.43,850.54 308.77,846.06 317.1,845.5 C324.77,844.99 332.43,844.72 340.1,844.6 C346.50,844.50 352.90,844.51 359.3,844.4 C366.33,844.28 373.37,843.40 380.4,843.4 C386.17,843.40 391.93,845.30 397.7,845.9 C406.03,846.77 414.37,847.16 422.7,847.9 C428.47,848.41 434.23,849.08 440.0,849.6 C452.07,850.68 464.13,852.04 476.2,852.5 C488.23,852.96 500.27,853.40 512.3,853.4 C521.97,853.40 531.63,853.27 541.3,853.0 C545.80,852.88 550.30,852.18 554.8,851.2 C558.13,850.48 561.47,848.11 564.8,846.2 C568.40,844.13 572.00,841.21 575.6,838.9 C578.03,837.34 580.47,835.68 582.9,834.4 C585.90,832.82 588.90,830.30 591.9,830.3 C594.60,830.30 597.30,834.51 600.0,836.2 C604.53,839.04 609.07,843.50 613.6,843.5 C617.53,843.50 621.47,840.70 625.4,840.7 C628.70,840.70 632.00,848.78 635.3,849.8 C642.53,852.03 649.77,853.40 657.0,853.4 C675.07,853.40 693.13,853.40 711.2,853.4 C727.47,853.40 743.73,853.78 760.0,853.8 C806.67,853.87 853.33,853.90 900.0,853.9 C933.33,853.90 966.67,853.87 1000.0,853.8 C1020.00,853.76 1040.00,852.80 1060.0,852.8 C1073.33,852.80 1086.67,853.20 1100.0,853.2 C1104.83,853.20 1109.67,851.93 1114.5,850.9 C1118.70,850.00 1122.90,849.29 1127.1,846.9 C1128.80,845.93 1130.50,843.92 1132.2,839.7 C1133.23,837.13 1134.27,827.40 1135.3,818.0 C1136.20,809.81 1137.10,794.41 1138.0,783.6 C1138.90,772.79 1139.80,761.15 1140.7,752.9 C1141.90,741.90 1143.10,732.47 1144.3,725.7 C1145.50,718.93 1146.70,711.59 1147.9,709.5 C1149.00,707.59 1150.10,705.90 1151.2,705.9 C1152.20,705.90 1153.20,710.16 1154.2,714.9 C1155.13,719.33 1156.07,734.33 1157.0,745.6 C1157.90,756.46 1158.80,770.38 1159.7,781.8 C1160.60,793.22 1161.50,807.79 1162.4,814.3 C1163.60,822.98 1164.80,829.74 1166.0,832.4 C1167.80,836.39 1169.60,839.70 1171.4,839.7 C1172.90,839.70 1174.40,838.38 1175.9,837.0 C1177.43,835.59 1178.97,830.53 1180.5,827.9 C1182.30,824.82 1184.10,819.80 1185.9,819.8 C1187.10,819.80 1188.30,822.67 1189.5,825.2 C1190.70,827.73 1191.90,835.15 1193.1,837.9 C1194.93,842.11 1196.77,845.66 1198.6,846.9 C1201.30,848.73 1204.00,850.20 1206.7,850.2 C1209.70,850.20 1212.70,849.95 1215.7,849.6 C1218.73,849.24 1221.77,846.65 1224.8,845.1 C1227.07,843.94 1229.33,841.50 1231.6,841.5 C1234.13,841.50 1236.67,844.64 1239.2,846.0 C1241.63,847.31 1244.07,849.22 1246.5,849.6 C1248.60,849.93 1250.70,850.20 1252.8,850.2 C1254.80,850.20 1256.80,848.06 1258.8,846.0 C1260.43,844.32 1262.07,839.72 1263.7,837.0 C1265.50,834.00 1267.30,829.34 1269.1,828.8 C1270.90,828.26 1272.70,828.47 1274.5,827.9 C1275.90,827.46 1277.30,820.70 1278.7,820.7 C1280.00,820.70 1281.30,827.90 1282.6,827.9 C1284.13,827.90 1285.67,824.30 1287.2,824.3 C1288.70,824.30 1290.20,830.60 1291.7,830.6 C1294.10,830.60 1296.50,826.10 1298.9,826.1 C1302.23,826.10 1305.57,828.80 1308.9,828.8 C1311.00,828.80 1313.10,824.44 1315.2,821.6 C1316.70,819.57 1318.20,816.86 1319.7,814.3 C1321.20,811.74 1322.70,806.20 1324.2,806.2 C1325.73,806.20 1327.27,806.20 1328.8,806.2 C1329.70,806.20 1330.60,800.52 1331.5,798.1 C1332.50,795.41 1333.50,790.80 1334.5,790.8 C1335.90,790.80 1337.30,796.33 1338.7,798.1 C1339.90,799.61 1341.10,800.90 1342.3,801.7 C1343.50,802.50 1344.70,802.67 1345.9,803.5 C1347.43,804.56 1348.97,808.90 1350.5,808.9 C1352.00,808.90 1353.50,806.04 1355.0,803.5 C1356.20,801.47 1357.40,796.37 1358.6,793.6 C1359.67,791.14 1360.73,787.20 1361.8,787.2 C1363.13,787.20 1364.47,789.43 1365.8,790.8 C1368.23,793.30 1370.67,799.90 1373.1,799.9 C1374.90,799.90 1376.70,796.36 1378.5,792.7 C1380.00,789.65 1381.50,780.38 1383.0,774.6 C1384.80,767.67 1386.60,759.93 1388.4,754.7 C1389.90,750.34 1391.40,746.75 1392.9,743.8 C1394.73,740.20 1396.57,734.80 1398.4,734.8 C1399.37,734.80 1400.33,736.11 1401.3,737.0 C1402.33,737.95 1403.37,740.60 1404.4,740.6 C1405.50,740.60 1406.60,737.18 1407.7,733.4 C1408.67,730.08 1409.63,714.69 1410.6,711.3 C1411.53,708.03 1412.47,704.90 1413.4,704.9 C1414.33,704.90 1415.27,709.91 1416.2,714.0 C1417.43,719.40 1418.67,731.28 1419.9,740.2 C1420.80,746.71 1421.70,754.13 1422.6,760.1 C1423.50,766.07 1424.40,770.82 1425.3,776.4 C1426.20,781.98 1427.10,792.51 1428.0,793.6 C1428.90,794.69 1429.80,795.40 1430.7,795.4 C1433.43,795.40 1436.17,789.00 1438.9,789.0 C1442.20,789.00 1445.50,797.20 1448.8,797.2 C1450.30,797.20 1451.80,793.04 1453.3,789.0 C1454.53,785.68 1455.77,775.10 1457.0,771.0 C1458.20,767.01 1459.40,761.90 1460.6,761.9 C1461.80,761.90 1463.00,766.27 1464.2,771.0 C1465.10,774.55 1466.00,788.68 1466.9,792.7 C1468.10,798.06 1469.30,803.50 1470.5,803.5 C1472.00,803.50 1473.50,796.30 1475.0,796.3 C1476.53,796.30 1478.07,804.40 1479.6,804.4 C1481.10,804.40 1482.60,803.50 1484.1,803.5 C1485.60,803.50 1487.10,808.00 1488.6,808.0 C1490.40,808.00 1492.20,802.89 1494.0,801.7 C1496.73,799.90 1499.47,798.10 1502.2,798.1 C1503.40,798.10 1504.60,800.71 1505.8,802.6 C1507.30,804.97 1508.80,809.77 1510.3,812.5 C1512.70,816.87 1515.10,819.97 1517.5,823.4 C1519.93,826.88 1522.37,833.30 1524.8,833.3 C1527.20,833.30 1529.60,828.80 1532.0,828.8 C1533.80,828.80 1535.60,833.30 1537.4,833.3 C1538.93,833.30 1540.47,831.50 1542.0,831.5 C1544.40,831.50 1546.80,836.00 1549.2,836.0 C1551.30,836.00 1553.40,828.80 1555.5,828.8 C1556.83,828.80 1558.17,833.30 1559.5,833.3 C1560.47,833.30 1561.43,823.00 1562.4,818.0 C1563.23,813.69 1564.07,805.30 1564.9,805.3 C1565.87,805.30 1566.83,812.41 1567.8,818.0 C1568.53,822.24 1569.27,834.38 1570.0,836.0 C1571.43,839.18 1572.87,841.00 1574.3,841.0 C1577.80,841.00 1581.30,833.95 1584.8,832.8 C1588.87,831.46 1592.93,830.30 1597.0,830.3 C1599.73,830.30 1602.47,832.08 1605.2,833.6 C1607.40,834.82 1609.60,839.30 1611.8,839.3 C1615.90,839.30 1620.00,838.99 1624.1,838.5 C1627.37,838.11 1630.63,835.38 1633.9,833.6 C1636.63,832.11 1639.37,828.70 1642.1,828.7 C1646.20,828.70 1650.30,830.30 1654.4,830.3 C1658.23,830.30 1662.07,828.88 1665.9,827.5 C1668.90,826.42 1671.90,822.14 1674.9,821.7 C1678.20,821.22 1681.50,820.90 1684.8,820.9 C1686.97,820.90 1689.13,822.50 1691.3,822.5 C1694.03,822.50 1696.77,820.50 1699.5,820.5 C1701.40,820.50 1703.30,823.38 1705.2,823.8 C1707.13,824.23 1709.07,824.33 1711.0,824.6" fill="none" stroke="#B374DD" stroke-width="7.2" stroke-linejoin="round" stroke-linecap="butt"/>
<path d="M101.9,1015.0 C120.47,1015.07 139.03,1015.12 157.6,1015.2 C176.83,1015.28 196.07,1015.50 215.3,1015.5 C234.50,1015.50 253.70,1015.04 272.9,1014.2 C279.30,1013.92 285.70,1012.80 292.1,1011.7 C298.50,1010.60 304.90,1007.81 311.3,1006.9 C317.70,1005.99 324.10,1005.46 330.5,1005.0 C340.10,1004.30 349.70,1003.96 359.3,1003.4 C366.33,1002.99 373.37,1002.10 380.4,1002.1 C384.90,1002.10 389.40,1003.07 393.9,1003.4 C399.60,1003.82 405.30,1004.40 411.0,1004.4 C412.50,1004.40 414.00,1003.47 415.5,1002.8 C416.93,1002.16 418.37,1000.20 419.8,1000.2 C421.03,1000.20 422.27,1001.91 423.5,1002.6 C425.00,1003.44 426.50,1004.23 428.0,1004.8 C432.00,1006.32 436.00,1007.64 440.0,1008.3 C452.07,1010.29 464.13,1011.47 476.2,1012.0 C488.23,1012.52 500.27,1013.00 512.3,1013.0 C521.97,1013.00 531.63,1013.00 541.3,1013.0 C545.80,1013.00 550.30,1012.38 554.8,1011.6 C558.13,1011.02 561.47,1008.93 564.8,1007.1 C569.00,1004.79 573.20,1000.85 577.4,998.0 C582.10,994.81 586.80,989.00 591.5,989.0 C594.03,989.00 596.57,994.42 599.1,996.2 C603.63,999.39 608.17,1003.50 612.7,1003.5 C616.93,1003.50 621.17,999.80 625.4,999.8 C628.70,999.80 632.00,1008.77 635.3,1009.8 C642.53,1012.06 649.77,1013.26 657.0,1013.4 C675.07,1013.76 693.13,1013.77 711.2,1013.9 C727.47,1014.02 743.73,1014.18 760.0,1014.2 C806.67,1014.27 853.33,1014.30 900.0,1014.3 C933.33,1014.30 966.67,1014.22 1000.0,1014.1 C1020.00,1014.03 1040.00,1013.50 1060.0,1013.5 C1073.33,1013.50 1086.67,1014.40 1100.0,1014.4 C1104.83,1014.40 1109.67,1013.61 1114.5,1012.8 C1118.70,1012.10 1122.90,1011.11 1127.1,1008.6 C1128.80,1007.58 1130.50,1005.48 1132.2,1001.0 C1133.23,998.28 1134.27,987.16 1135.3,977.5 C1136.20,969.08 1137.10,954.85 1138.0,945.0 C1138.90,935.15 1139.80,924.76 1140.7,917.9 C1141.90,908.75 1143.10,901.99 1144.3,896.2 C1145.50,890.41 1146.70,884.13 1147.9,881.7 C1149.00,879.47 1150.10,877.20 1151.2,877.2 C1152.20,877.20 1153.20,881.99 1154.2,887.1 C1155.13,891.87 1156.07,906.89 1157.0,917.9 C1157.90,928.52 1158.80,941.38 1159.7,952.2 C1160.60,963.02 1161.50,977.54 1162.4,983.0 C1163.60,990.27 1164.80,996.11 1166.0,997.4 C1167.50,999.01 1169.00,1000.10 1170.5,1000.1 C1172.30,1000.10 1174.10,998.36 1175.9,996.5 C1177.43,994.92 1178.97,990.96 1180.5,986.6 C1181.70,983.19 1182.90,975.38 1184.1,972.1 C1185.90,967.18 1187.70,961.30 1189.5,961.3 C1190.40,961.30 1191.30,966.80 1192.2,972.1 C1192.80,975.64 1193.40,987.06 1194.0,990.2 C1195.20,996.49 1196.40,1000.09 1197.6,1002.0 C1199.73,1005.40 1201.87,1007.36 1204.0,1008.3 C1206.10,1009.23 1208.20,1010.10 1210.3,1010.1 C1212.70,1010.10 1215.10,1008.65 1217.5,1007.4 C1220.53,1005.82 1223.57,1002.60 1226.6,999.2 C1228.70,996.85 1230.80,990.20 1232.9,990.2 C1234.70,990.20 1236.50,996.58 1238.3,999.2 C1240.43,1002.30 1242.57,1006.30 1244.7,1007.4 C1247.10,1008.64 1249.50,1009.70 1251.9,1009.7 C1254.20,1009.70 1256.50,1007.91 1258.8,1005.6 C1260.10,1004.30 1261.40,998.83 1262.7,996.5 C1264.83,992.68 1266.97,987.50 1269.1,987.5 C1270.90,987.50 1272.70,987.50 1274.5,987.5 C1275.90,987.50 1277.30,978.40 1278.7,978.4 C1280.00,978.40 1281.30,987.50 1282.6,987.5 C1284.13,987.50 1285.67,983.00 1287.2,983.0 C1288.70,983.00 1290.20,990.20 1291.7,990.2 C1294.10,990.20 1296.50,985.70 1298.9,985.7 C1302.23,985.70 1305.57,987.50 1308.9,987.5 C1311.00,987.50 1313.10,982.98 1315.2,980.3 C1316.70,978.39 1318.20,976.16 1319.7,973.9 C1321.20,971.64 1322.70,966.70 1324.2,966.7 C1325.73,966.70 1327.27,967.60 1328.8,967.6 C1329.70,967.60 1330.60,961.29 1331.5,958.6 C1332.40,955.91 1333.30,951.30 1334.2,951.3 C1335.70,951.30 1337.20,956.76 1338.7,958.6 C1339.90,960.07 1341.10,961.40 1342.3,962.2 C1343.50,963.00 1344.70,963.22 1345.9,964.0 C1347.43,965.00 1348.97,968.50 1350.5,968.5 C1352.00,968.50 1353.50,966.18 1355.0,964.0 C1356.20,962.25 1357.40,957.32 1358.6,954.9 C1359.67,952.75 1360.73,949.50 1361.8,949.5 C1363.13,949.50 1364.47,951.68 1365.8,953.1 C1368.23,955.69 1370.67,963.10 1373.1,963.1 C1374.90,963.10 1376.70,959.59 1378.5,955.8 C1380.00,952.64 1381.50,942.20 1383.0,935.9 C1384.50,929.60 1386.00,921.50 1387.5,917.9 C1389.30,913.58 1391.10,911.45 1392.9,908.8 C1394.73,906.10 1396.57,901.60 1398.4,901.6 C1399.37,901.60 1400.33,902.96 1401.3,904.0 C1402.33,905.11 1403.37,908.80 1404.4,908.8 C1405.50,908.80 1406.60,905.36 1407.7,901.6 C1408.67,898.30 1409.63,882.85 1410.6,879.9 C1411.53,877.05 1412.47,874.50 1413.4,874.5 C1414.33,874.50 1415.27,879.92 1416.2,884.2 C1417.43,889.86 1418.67,902.09 1419.9,910.6 C1420.80,916.81 1421.70,922.98 1422.6,928.7 C1423.50,934.42 1424.40,939.72 1425.3,945.0 C1426.20,950.28 1427.10,959.33 1428.0,960.4 C1428.90,961.47 1429.80,962.20 1430.7,962.2 C1433.73,962.20 1436.77,954.90 1439.8,954.9 C1442.80,954.90 1445.80,958.60 1448.8,958.6 C1450.30,958.60 1451.80,953.08 1453.3,948.6 C1454.53,944.92 1455.77,935.38 1457.0,932.3 C1458.20,929.30 1459.40,926.00 1460.6,926.0 C1461.80,926.00 1463.00,929.76 1464.2,934.1 C1465.10,937.35 1466.00,951.75 1466.9,955.8 C1468.10,961.19 1469.30,966.70 1470.5,966.7 C1472.00,966.70 1473.50,959.50 1475.0,959.5 C1476.53,959.50 1478.07,966.70 1479.6,966.7 C1481.10,966.70 1482.60,964.90 1484.1,964.9 C1485.60,964.90 1487.10,969.40 1488.6,969.4 C1490.40,969.40 1492.20,964.92 1494.0,964.0 C1496.73,962.60 1499.47,961.30 1502.2,961.3 C1503.40,961.30 1504.60,964.15 1505.8,965.8 C1507.90,968.69 1510.00,972.46 1512.1,975.7 C1514.50,979.40 1516.90,983.02 1519.3,986.6 C1521.13,989.34 1522.97,994.70 1524.8,994.7 C1527.20,994.70 1529.60,989.30 1532.0,989.3 C1533.80,989.30 1535.60,994.70 1537.4,994.7 C1539.23,994.70 1541.07,993.80 1542.9,993.8 C1545.00,993.80 1547.10,998.30 1549.2,998.3 C1551.30,998.30 1553.40,990.20 1555.5,990.2 C1556.83,990.20 1558.17,994.70 1559.5,994.7 C1560.47,994.70 1561.43,983.89 1562.4,979.3 C1563.23,975.34 1564.07,968.50 1564.9,968.5 C1565.87,968.50 1566.83,974.26 1567.8,979.3 C1568.53,983.13 1569.27,996.03 1570.0,997.4 C1571.43,1000.08 1572.87,1001.50 1574.3,1001.5 C1577.80,1001.50 1581.30,994.50 1584.8,993.2 C1588.87,991.69 1592.93,990.30 1597.0,990.3 C1599.20,990.30 1601.40,990.46 1603.6,990.7 C1606.07,990.97 1608.53,996.10 1611.0,996.1 C1613.73,996.10 1616.47,995.15 1619.2,994.4 C1621.93,993.65 1624.67,991.78 1627.4,991.1 C1629.57,990.56 1631.73,990.49 1633.9,989.9 C1636.63,989.16 1639.37,985.40 1642.1,985.4 C1646.20,985.40 1650.30,987.00 1654.4,987.0 C1658.23,987.00 1662.07,985.28 1665.9,983.8 C1668.90,982.64 1671.90,978.40 1674.9,978.4 C1679.27,978.40 1683.63,978.90 1688.0,978.9 C1691.83,978.90 1695.67,977.60 1699.5,977.6 C1701.40,977.60 1703.30,981.26 1705.2,981.7 C1707.13,982.15 1709.07,982.23 1711.0,982.5" fill="none" stroke="#CC9C00" stroke-width="7.2" stroke-linejoin="round" stroke-linecap="butt"/>
<path d="M101.9,1155.2 C120.47,1155.30 139.03,1155.50 157.6,1155.5 C176.83,1155.50 196.07,1155.50 215.3,1155.5 C234.50,1155.50 253.70,1155.36 272.9,1155.0 C279.30,1154.88 285.70,1153.87 292.1,1153.0 C298.50,1152.13 304.90,1150.04 311.3,1149.2 C317.70,1148.36 324.10,1147.59 330.5,1147.3 C340.10,1146.87 349.70,1146.89 359.3,1146.5 C366.33,1146.21 373.37,1145.00 380.4,1145.0 C389.37,1145.00 398.33,1146.90 407.3,1146.9 C409.23,1146.90 411.17,1144.36 413.1,1142.1 C414.23,1140.77 415.37,1137.51 416.5,1136.0 C417.60,1134.54 418.70,1132.50 419.8,1132.5 C420.87,1132.50 421.93,1134.57 423.0,1136.0 C424.17,1137.56 425.33,1140.75 426.5,1142.1 C428.43,1144.34 430.37,1145.95 432.3,1146.9 C434.87,1148.16 437.43,1149.07 440.0,1149.5 C452.07,1151.52 464.13,1152.42 476.2,1152.9 C488.23,1153.37 500.27,1153.80 512.3,1153.8 C521.97,1153.80 531.63,1153.70 541.3,1153.5 C545.50,1153.41 549.70,1153.00 553.9,1152.4 C558.13,1151.80 562.37,1149.76 566.6,1147.5 C570.80,1145.26 575.00,1140.73 579.2,1136.6 C581.63,1134.21 584.07,1131.31 586.5,1128.5 C588.00,1126.77 589.50,1123.10 591.0,1123.1 C593.10,1123.10 595.20,1127.87 597.3,1130.3 C599.10,1132.38 600.90,1135.07 602.7,1136.6 C606.03,1139.44 609.37,1143.00 612.7,1143.0 C616.93,1143.00 621.17,1136.60 625.4,1136.6 C627.50,1136.60 629.60,1144.44 631.7,1146.6 C634.10,1149.06 636.50,1151.53 638.9,1152.0 C644.93,1153.19 650.97,1153.70 657.0,1153.8 C675.07,1154.09 693.13,1154.02 711.2,1154.2 C727.47,1154.36 743.73,1154.76 760.0,1154.9 C809.33,1155.32 858.67,1155.70 908.0,1155.7 C938.67,1155.70 969.33,1155.42 1000.0,1155.2 C1020.00,1155.06 1040.00,1154.73 1060.0,1154.6 C1073.33,1154.51 1086.67,1154.55 1100.0,1154.4 C1104.83,1154.34 1109.67,1152.90 1114.5,1151.8 C1118.70,1150.84 1122.90,1150.25 1127.1,1147.9 C1128.80,1146.95 1130.50,1144.87 1132.2,1140.6 C1133.23,1138.00 1134.27,1128.10 1135.3,1118.9 C1136.20,1110.88 1137.10,1096.27 1138.0,1086.4 C1138.90,1076.53 1139.80,1066.07 1140.7,1059.2 C1141.90,1050.04 1143.10,1043.30 1144.3,1037.5 C1145.33,1032.51 1146.37,1026.98 1147.4,1024.9 C1148.53,1022.62 1149.67,1020.40 1150.8,1020.4 C1151.93,1020.40 1153.07,1025.06 1154.2,1030.3 C1155.13,1034.62 1156.07,1048.31 1157.0,1059.2 C1157.90,1069.71 1158.80,1084.69 1159.7,1095.4 C1160.60,1106.11 1161.50,1119.41 1162.4,1124.3 C1163.60,1130.82 1164.80,1135.52 1166.0,1137.0 C1167.20,1138.48 1168.40,1139.70 1169.6,1139.7 C1171.40,1139.70 1173.20,1137.86 1175.0,1136.1 C1176.53,1134.60 1178.07,1131.50 1179.6,1128.0 C1181.10,1124.58 1182.60,1120.27 1184.1,1113.5 C1185.13,1108.83 1186.17,1101.17 1187.2,1091.8 C1187.97,1084.85 1188.73,1063.30 1189.5,1063.3 C1190.20,1063.30 1190.90,1065.69 1191.6,1069.0 C1192.17,1071.68 1192.73,1087.33 1193.3,1095.0 C1194.43,1110.33 1195.57,1131.44 1196.7,1135.2 C1198.53,1141.28 1200.37,1143.33 1202.2,1145.1 C1204.60,1147.41 1207.00,1149.70 1209.4,1149.7 C1212.10,1149.70 1214.80,1148.34 1217.5,1147.0 C1220.53,1145.50 1223.57,1142.90 1226.6,1137.9 C1228.10,1135.43 1229.60,1129.04 1231.1,1122.5 C1232.00,1118.58 1232.90,1107.20 1233.8,1107.2 C1235.00,1107.20 1236.20,1112.99 1237.4,1117.1 C1238.60,1121.21 1239.80,1130.02 1241.0,1133.4 C1242.83,1138.56 1244.67,1142.85 1246.5,1144.2 C1248.60,1145.74 1250.70,1147.00 1252.8,1147.0 C1254.60,1147.00 1256.40,1146.04 1258.2,1144.2 C1259.10,1143.28 1260.00,1134.47 1260.9,1131.6 C1261.50,1129.69 1262.10,1127.10 1262.7,1127.1 C1264.83,1127.10 1266.97,1127.10 1269.1,1127.1 C1270.60,1127.10 1272.10,1128.00 1273.6,1128.0 C1275.40,1128.00 1277.20,1120.70 1279.0,1120.7 C1280.20,1120.70 1281.40,1128.00 1282.6,1128.0 C1284.13,1128.00 1285.67,1121.60 1287.2,1121.6 C1289.00,1121.60 1290.80,1130.70 1292.6,1130.7 C1294.70,1130.70 1296.80,1126.20 1298.9,1126.2 C1301.93,1126.20 1304.97,1127.10 1308.0,1127.1 C1310.40,1127.10 1312.80,1122.97 1315.2,1120.7 C1316.70,1119.28 1318.20,1118.13 1319.7,1116.2 C1321.20,1114.27 1322.70,1108.10 1324.2,1108.1 C1325.73,1108.10 1327.27,1109.00 1328.8,1109.0 C1329.70,1109.00 1330.60,1103.36 1331.5,1100.8 C1332.40,1098.24 1333.30,1093.60 1334.2,1093.6 C1335.70,1093.60 1337.20,1099.25 1338.7,1100.8 C1339.90,1102.04 1341.10,1102.87 1342.3,1103.6 C1343.50,1104.33 1344.70,1104.67 1345.9,1105.4 C1347.43,1106.33 1348.97,1109.00 1350.5,1109.0 C1352.00,1109.00 1353.50,1106.15 1355.0,1103.6 C1356.20,1101.56 1357.40,1096.23 1358.6,1093.6 C1359.93,1090.68 1361.27,1086.40 1362.6,1086.4 C1363.97,1086.40 1365.33,1089.26 1366.7,1090.9 C1369.13,1093.82 1371.57,1100.80 1374.0,1100.8 C1375.50,1100.80 1377.00,1098.23 1378.5,1095.4 C1380.00,1092.57 1381.50,1081.82 1383.0,1075.5 C1384.50,1069.18 1386.00,1060.98 1387.5,1057.4 C1389.30,1053.10 1391.10,1051.22 1392.9,1048.4 C1394.73,1045.53 1396.57,1040.30 1398.4,1040.3 C1399.37,1040.30 1400.33,1041.70 1401.3,1042.5 C1402.33,1043.35 1403.37,1045.30 1404.4,1045.3 C1405.50,1045.30 1406.60,1042.27 1407.7,1039.0 C1408.67,1036.12 1409.63,1022.46 1410.6,1020.4 C1411.53,1018.41 1412.47,1016.80 1413.4,1016.8 C1414.33,1016.80 1415.27,1021.68 1416.2,1025.6 C1417.43,1030.78 1418.67,1041.96 1419.9,1050.2 C1420.80,1056.21 1421.70,1062.58 1422.6,1068.3 C1423.50,1074.02 1424.40,1079.86 1425.3,1084.6 C1426.20,1089.34 1427.10,1096.15 1428.0,1097.2 C1428.90,1098.25 1429.80,1099.00 1430.7,1099.0 C1433.73,1099.00 1436.77,1094.50 1439.8,1094.5 C1442.80,1094.50 1445.80,1099.90 1448.8,1099.9 C1450.30,1099.90 1451.80,1094.27 1453.3,1090.0 C1454.53,1086.49 1455.77,1078.48 1457.0,1075.5 C1458.20,1072.60 1459.40,1069.20 1460.6,1069.2 C1461.80,1069.20 1463.00,1073.06 1464.2,1077.3 C1465.10,1080.48 1466.00,1093.04 1466.9,1097.2 C1468.10,1102.75 1469.30,1109.00 1470.5,1109.0 C1472.00,1109.00 1473.50,1101.70 1475.0,1101.7 C1476.53,1101.70 1478.07,1109.90 1479.6,1109.9 C1481.10,1109.90 1482.60,1108.10 1484.1,1108.1 C1485.60,1108.10 1487.10,1111.70 1488.6,1111.7 C1490.40,1111.70 1492.20,1108.33 1494.0,1107.2 C1496.43,1105.67 1498.87,1103.60 1501.3,1103.6 C1502.80,1103.60 1504.30,1105.64 1505.8,1107.2 C1507.90,1109.39 1510.00,1113.61 1512.1,1117.1 C1514.50,1121.08 1516.90,1126.50 1519.3,1129.8 C1521.13,1132.32 1522.97,1136.10 1524.8,1136.1 C1527.20,1136.10 1529.60,1131.60 1532.0,1131.6 C1533.80,1131.60 1535.60,1134.30 1537.4,1134.3 C1539.23,1134.30 1541.07,1134.30 1542.9,1134.3 C1545.00,1134.30 1547.10,1139.70 1549.2,1139.7 C1551.30,1139.70 1553.40,1132.50 1555.5,1132.5 C1556.83,1132.50 1558.17,1137.00 1559.5,1137.0 C1560.47,1137.00 1561.43,1126.76 1562.4,1122.5 C1563.23,1118.83 1564.07,1112.60 1564.9,1112.6 C1565.87,1112.60 1566.83,1117.75 1567.8,1122.5 C1568.53,1126.11 1569.27,1139.75 1570.0,1140.6 C1571.43,1142.25 1572.87,1143.00 1574.3,1143.0 C1577.80,1143.00 1581.30,1135.29 1584.8,1134.4 C1589.43,1133.23 1594.07,1133.68 1598.7,1132.4 C1600.47,1131.91 1602.23,1127.90 1604.0,1127.9 C1606.07,1127.90 1608.13,1136.10 1610.2,1136.1 C1612.37,1136.10 1614.53,1135.35 1616.7,1134.4 C1619.03,1133.37 1621.37,1124.20 1623.7,1124.2 C1626.03,1124.20 1628.37,1129.68 1630.7,1130.3 C1632.33,1130.73 1633.97,1131.10 1635.6,1131.1 C1637.77,1131.10 1639.93,1128.30 1642.1,1128.3 C1646.20,1128.30 1650.30,1130.70 1654.4,1130.7 C1658.23,1130.70 1662.07,1128.56 1665.9,1126.2 C1668.10,1124.85 1670.30,1118.40 1672.5,1118.4 C1675.23,1118.40 1677.97,1123.20 1680.7,1123.4 C1684.23,1123.66 1687.77,1123.80 1691.3,1123.8 C1693.50,1123.80 1695.70,1122.10 1697.9,1122.1 C1700.33,1122.10 1702.77,1126.40 1705.2,1127.0 C1707.13,1127.48 1709.07,1127.60 1711.0,1127.9" fill="none" stroke="#00CFCF" stroke-width="7.2" stroke-linejoin="round" stroke-linecap="butt"/>
<rect x="101" y="24.5" width="1609.3" height="1152.4" fill="none" stroke="#000" stroke-width="4.4"/>
<line x1="101.00" y1="1176" x2="101.00" y2="1199.2" stroke="#000" stroke-width="4.2"/>
<text x="100.40" y="1262.2" text-anchor="middle" class="t">4000</text>
<line x1="215.95" y1="1176" x2="215.95" y2="1188.2" stroke="#000" stroke-width="4.2"/>
<line x1="330.90" y1="1176" x2="330.90" y2="1199.2" stroke="#000" stroke-width="4.2"/>
<text x="330.30" y="1262.2" text-anchor="middle" class="t">3500</text>
<line x1="445.85" y1="1176" x2="445.85" y2="1188.2" stroke="#000" stroke-width="4.2"/>
<line x1="560.80" y1="1176" x2="560.80" y2="1199.2" stroke="#000" stroke-width="4.2"/>
<text x="560.20" y="1262.2" text-anchor="middle" class="t">3000</text>
<line x1="675.75" y1="1176" x2="675.75" y2="1188.2" stroke="#000" stroke-width="4.2"/>
<line x1="790.70" y1="1176" x2="790.70" y2="1199.2" stroke="#000" stroke-width="4.2"/>
<text x="790.10" y="1262.2" text-anchor="middle" class="t">2500</text>
<line x1="905.65" y1="1176" x2="905.65" y2="1188.2" stroke="#000" stroke-width="4.2"/>
<line x1="1020.60" y1="1176" x2="1020.60" y2="1199.2" stroke="#000" stroke-width="4.2"/>
<text x="1020.00" y="1262.2" text-anchor="middle" class="t">2000</text>
<line x1="1135.55" y1="1176" x2="1135.55" y2="1188.2" stroke="#000" stroke-width="4.2"/>
<line x1="1250.50" y1="1176" x2="1250.50" y2="1199.2" stroke="#000" stroke-width="4.2"/>
<text x="1249.90" y="1262.2" text-anchor="middle" class="t">1500</text>
<line x1="1365.45" y1="1176" x2="1365.45" y2="1188.2" stroke="#000" stroke-width="4.2"/>
<line x1="1480.40" y1="1176" x2="1480.40" y2="1199.2" stroke="#000" stroke-width="4.2"/>
<text x="1479.80" y="1262.2" text-anchor="middle" class="t">1000</text>
<line x1="1595.35" y1="1176" x2="1595.35" y2="1188.2" stroke="#000" stroke-width="4.2"/>
<line x1="1710.30" y1="1176" x2="1710.30" y2="1199.2" stroke="#000" stroke-width="4.2"/>
<text x="1709.70" y="1262.2" text-anchor="middle" class="t">500</text>
<text x="745.8" y="173" class="t">PE</text>
<text x="747.6" y="398.5" class="t">PEA 4.6-05</text>
<text x="746.4" y="530.6" class="t">PEA 4.6-10</text>
<text x="747.4" y="670.4" class="t">PEA 4.6-15</text>
<text x="749.6" y="825.9" class="t">PEA 6.6-05</text>
<text x="747.7" y="987.2" class="t">PEA 6.6-10</text>
<text x="749.2" y="1126.2" class="t">PEA 6.6-15</text>
<text x="61" y="757.9" class="t" style="font-size:58.9px" transform="rotate(-90 61 757.9)">Absorbance</text>
<text x="0" y="0" class="xl" transform="translate(648.1,1337.7) scale(1.256,1)">Wavenumber (cm</text>
<text x="0" y="0" class="xl" style="font-size:30px" transform="translate(1108.4,1319.6) scale(1.34,1)">-</text>
<text x="1118.6" y="1319.7" class="xl" style="font-size:37px">1</text>
<text x="0" y="0" class="xl" transform="translate(1146.7,1337.7) scale(1.12,1)">)</text>
</svg></body></html>
